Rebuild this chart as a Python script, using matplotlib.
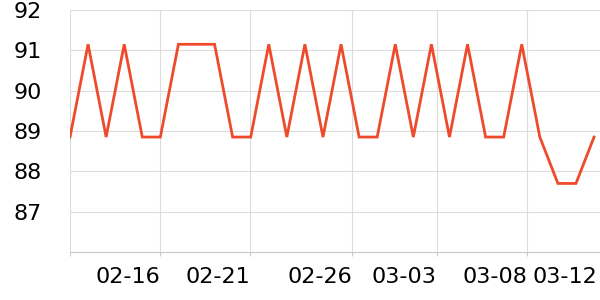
import numpy as np
import matplotlib
matplotlib.use('Agg')
import matplotlib.pyplot as plt

# Values, one point per reading
values = [88.85, 91.15, 88.85, 91.15, 88.85, 88.85, 91.15, 91.15, 91.15, 88.85,
          88.85, 91.15, 88.85, 91.15, 88.85, 91.15, 88.85, 88.85, 91.15, 88.85,
          91.15, 88.85, 91.15, 88.85, 88.85, 91.15, 88.85, 87.7, 87.7, 88.85]

# Tick positions (in point index units) and their date labels
tick_pos = [0, 5, 9.96, 15.6, 20.3, 25.3]
tick_labels = ['', '02-16', '02-21', '02-26', '03-03', '03-08']
last_label = '03-12'
last_pos = 29.2

y_ticks = [87, 88, 89, 90, 91, 92]

x = np.arange(len(values))

fig = plt.figure(figsize=(6, 3), dpi=100)
ax = fig.add_axes([70 / 600, 48 / 300, 530 / 600, 242 / 300])

ax.plot(x, values, color='#ee4a2b', linewidth=2.0, solid_joinstyle='miter', zorder=3)

ax.set_xlim(0, 29.33)
ax.set_ylim(86, 92)

ax.set_xticks(tick_pos)
ax.set_xticklabels(tick_labels, fontsize=16, ha='right')
ax.set_yticks(y_ticks)
ax.set_yticklabels([str(v) for v in y_ticks], fontsize=16)

ax.tick_params(axis='y', length=0, pad=20.5)
ax.tick_params(axis='x', length=3, color='#cccccc', pad=7.5)

# last date label sits past the final point, without a grid line
ax.annotate(last_label, xy=(last_pos, 0), xycoords=ax.get_xaxis_transform(),
            xytext=(0, -10.5), textcoords='offset points',
            fontsize=16, ha='right', va='top', annotation_clip=False)

ax.grid(True, color='#dcdcdc', linewidth=0.8)
ax.set_axisbelow(True)
for side in ['top', 'right', 'left']:
    ax.spines[side].set_visible(False)
ax.spines['bottom'].set_color('#c8c8c8')
ax.spines['bottom'].set_linewidth(0.8)

fig.savefig('out.png', dpi=100)
